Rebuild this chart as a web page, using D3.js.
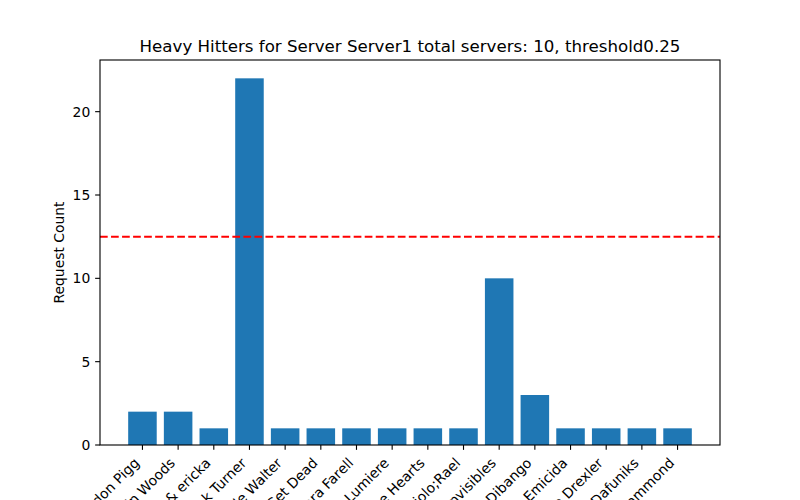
<!DOCTYPE html>
<html><head><meta charset="utf-8">
<script src="https://cdn.jsdelivr.net/npm/d3@7"></script>
<style>body{margin:0;background:#fff}svg{display:block}text{font-family:"DejaVu Sans",sans-serif}</style>
</head><body><svg id="c" width="800" height="500"></svg>
<script>
const categories = ["Gordon Pigg","Kevin Woods","max & ericka","Frank Turner","Nicole Walter","Get Dead","Tamara Farell","Lumiere","Brave Hearts","Fabiolo;Rael","The Invisibles","Manu Dibango","Emicida","Jorge Drexler","Dafuniks","Paul Hammond"];
const values = [2,2,1,22,1,1,1,1,1,1,10,3,1,1,1,1];
const threshold = 12.5;
const yTicks = [0,5,10,15,20];
const titleText = "Heavy Hitters for Server Server1 total servers: 10, threshold0.25";
const yLabel = "Request Count";

const svg = d3.select("#c");
const L=100,R=720,T=60,B=445;
const n = categories.length;
const x = d3.scaleLinear().domain([-0.4-0.79, (n-1)+0.4+0.79]).range([L,R]);
const y = d3.scaleLinear().domain([0, d3.max(values)*1.05]).range([B,T]);
const bw = x(0.8)-x(0);
const fs = 13.9, tk = 4.86, lw = 1.11;
const boxH = 1.164*fs, shift = boxH*Math.SQRT1_2;

svg.append("g").selectAll("rect").data(values).join("rect")
  .attr("x",(d,i)=>x(i)-bw/2).attr("width",bw)
  .attr("y",d=>y(d)).attr("height",d=>B-y(d)).attr("fill","#1f77b4");

svg.append("line").attr("x1",L).attr("x2",R).attr("y1",y(threshold)).attr("y2",y(threshold))
  .attr("stroke","#ff0000").attr("stroke-width",2.08).attr("stroke-dasharray","7.7,3.33");

svg.append("rect").attr("x",L).attr("y",T).attr("width",R-L).attr("height",B-T)
  .attr("fill","none").attr("stroke","#000").attr("stroke-width",lw);

const ya = svg.append("g");
yTicks.forEach(t=>{
  ya.append("line").attr("x1",L-tk).attr("x2",L).attr("y1",y(t)).attr("y2",y(t)).attr("stroke","#000").attr("stroke-width",lw);
  ya.append("text").attr("x",L-tk-4.86).attr("y",y(t)).attr("dy","0.35em").attr("text-anchor","end").attr("font-size",fs).text(t);
});
const xa = svg.append("g");
categories.forEach((c,i)=>{
  xa.append("line").attr("x1",x(i)).attr("x2",x(i)).attr("y1",B).attr("y2",B+tk).attr("stroke","#000").attr("stroke-width",lw);
  xa.append("text").attr("transform",`translate(${x(i)-shift},${B+tk+4.86}) rotate(-45)`)
    .attr("text-anchor","end").attr("dy","0.93em").attr("font-size",fs).text(c);
});

svg.append("text").attr("x",(L+R)/2).attr("y",T-8.3).attr("text-anchor","middle").attr("font-size",16.67).text(titleText);
svg.append("text").attr("transform",`translate(64,${(T+B)/2}) rotate(-90)`).attr("text-anchor","middle").attr("font-size",fs).text(yLabel);
</script></body></html>
